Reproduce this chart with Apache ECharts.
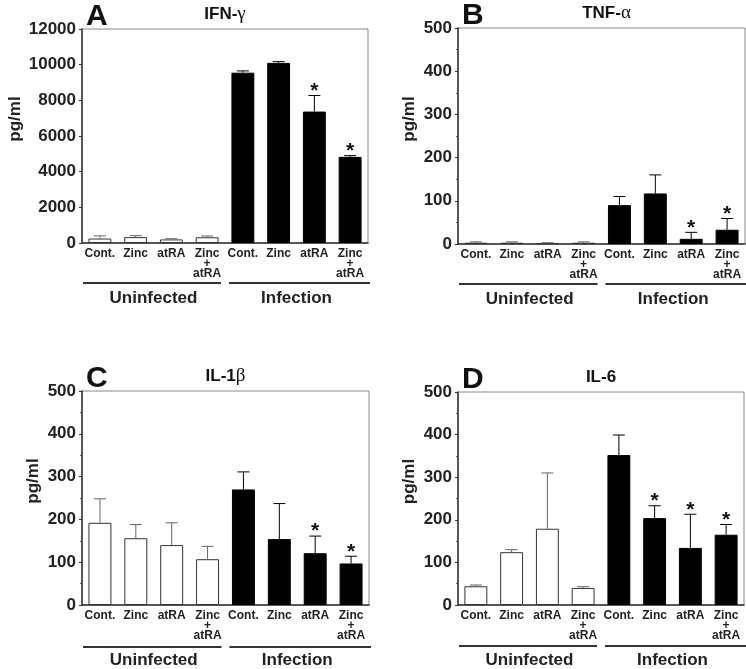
<!DOCTYPE html>
<html><head><meta charset="utf-8">
<script src="https://cdn.jsdelivr.net/npm/echarts@6/dist/echarts.min.js"></script>
<style>html,body{margin:0;padding:0;background:#fff}#c{width:746px;height:669px}</style>
</head><body><div id="c"></div>
<script>
const categories = ['Cont.', 'Zinc', 'atRA', 'Zinc\n+\natRA', 'Cont.', 'Zinc', 'atRA', 'Zinc\n+\natRA'];
const groups = ['Uninfected', 'Infection'];
const letters = ['A', 'B', 'C', 'D'];
const titlesBold = ['IFN-', 'TNF-', 'IL-1', 'IL-6'];
const titlesGreek = ['γ', 'α', 'β', ''];
const ifnMean = [250, 330, 200, 320, 9550, 10100, 7370, 4830];
const ifnErr = [150, 80, 40, 70, 100, 70, 900, 70];
const ifnSig = [0, 0, 0, 0, 0, 0, 1, 1];
const tnfMean = [3, 3, 2, 3, 90, 117, 12, 33];
const tnfErr = [2, 2, 1, 2, 20, 43, 15, 26];
const tnfSig = [0, 0, 0, 0, 0, 0, 1, 1];
const il1Mean = [192, 156, 140, 107, 270, 154, 121, 97];
const il1Err = [56, 32, 52, 30, 41, 83, 40, 17];
const il1Sig = [0, 0, 0, 0, 0, 0, 1, 1];
const il6Mean = [44, 124, 179, 40, 352, 204, 134, 165];
const il6Err = [3, 6, 131, 3, 47, 29, 79, 24];
const il6Sig = [0, 0, 0, 0, 0, 1, 1, 1];
const yMax = [12000, 500, 500, 500];
const yInterval = [2000, 100, 100, 100];
const yName = 'pg/ml';

const means = [ifnMean, tnfMean, il1Mean, il6Mean];
const errs = [ifnErr, tnfErr, il1Err, il6Err];
const sigs = [ifnSig, tnfSig, il1Sig, il6Sig];

const FONT = 'Liberation Sans, Arial, Helvetica, sans-serif';
const grids = [
  {left: 82, right: 378, top: 29, bottom: 426},
  {left: 458, right: 1, top: 28, bottom: 425},
  {left: 82, right: 377, top: 391, bottom: 62},
  {left: 458, right: 2, top: 392, bottom: 63}
];
const nameGaps = [58, 40, 40, 40];

const chart = echarts.init(document.getElementById('c'), null, {renderer: 'canvas'});

function renderErr(params, api) {
  const i = api.value(0), m = api.value(1), e = api.value(2), s = api.value(3);
  const base = api.coord([i, m]);
  const top = api.coord([i, m + e]);
  const col = i < 4 ? '#666' : '#000';
  const children = [
    {type: 'line', shape: {x1: base[0], y1: base[1], x2: top[0], y2: top[1]}, style: {stroke: col, lineWidth: 1}},
    {type: 'line', shape: {x1: top[0] - 6, y1: top[1], x2: top[0] + 6, y2: top[1]}, style: {stroke: col, lineWidth: 1}}
  ];
  if (s) {
    children.push({type: 'text', style: {text: '*', x: top[0], y: top[1] + 6, align: 'center', verticalAlign: 'bottom', font: 'bold 21px ' + FONT, fill: '#111'}});
  }
  return {type: 'group', children};
}

const option = {
  animation: false,
  backgroundColor: '#fff',
  title: [],
  grid: [],
  xAxis: [],
  yAxis: [],
  series: []
};

grids.forEach((g, k) => {
  option.grid.push(Object.assign({show: true, borderColor: '#888', borderWidth: 1, backgroundColor: 'transparent'}, g));
  option.xAxis.push({
    type: 'category', gridIndex: k, data: categories,
    axisLine: {show: true, lineStyle: {color: '#333', width: 1.5}},
    axisTick: {show: false},
    axisLabel: {interval: 0, margin: 6, color: '#222', fontFamily: FONT, fontWeight: 'bold', fontSize: 12, lineHeight: 10},
    splitLine: {show: false}
  });
  option.xAxis.push({
    type: 'category', gridIndex: k, data: groups, position: 'bottom', offset: 41,
    axisLine: {show: false}, axisTick: {show: false},
    axisLabel: {interval: 0, margin: 6, color: '#222', fontFamily: FONT, fontWeight: 'bold', fontSize: 17},
    splitLine: {show: false}
  });
  option.yAxis.push({
    type: 'value', gridIndex: k, min: 0, max: yMax[k], interval: yInterval[k],
    name: yName, nameLocation: 'middle', nameGap: nameGaps[k],
    nameTextStyle: {fontFamily: FONT, fontWeight: 'bold', fontSize: 17, color: '#222', padding: [0, 0, 0, 34]},
    axisLine: {show: true, lineStyle: {color: '#333', width: 1.5}},
    axisTick: {show: true, inside: false, length: 3, lineStyle: {color: '#333'}},
    minorTick: {show: k > 0, splitNumber: 2, length: 2, lineStyle: {color: '#555'}},
    axisLabel: {margin: 6, color: '#222', fontFamily: FONT, fontWeight: 'bold', fontSize: 17, formatter: v => String(v)},
    splitLine: {show: false}
  });
  option.series.push({
    type: 'bar', xAxisIndex: k * 2, yAxisIndex: k, barCategoryGap: '36%',
    data: means[k].map((v, i) => ({
      value: v,
      itemStyle: i < 4 ? {color: '#fff', borderColor: '#333', borderWidth: 1} : {color: '#000', borderColor: '#000', borderWidth: 1}
    })),
    z: 2
  });
  option.series.push({
    type: 'custom', xAxisIndex: k * 2, yAxisIndex: k, renderItem: renderErr,
    encode: {x: 0, y: 1},
    data: means[k].map((v, i) => [i, v, errs[k][i], sigs[k][i]]),
    z: 3
  });
  const cx = g.left + (746 - g.left - g.right) / 2 + (k === 1 ? 5 : 0);
  option.title.push({
    text: letters[k], left: g.left + 4, top: g.top - 27, padding: 0,
    textStyle: {fontFamily: FONT, fontWeight: 'bold', fontSize: 30, lineHeight: 30, color: '#111'}
  });
  option.title.push({
    text: '{b|' + titlesBold[k] + '}' + (titlesGreek[k] ? '{g|' + titlesGreek[k] + '}' : ''),
    left: cx, textAlign: 'center', top: g.top - 25, padding: 0,
    textStyle: {rich: {
      b: {fontFamily: FONT, fontWeight: 'bold', fontSize: 17, lineHeight: 20, color: '#111'},
      g: {fontFamily: 'Liberation Serif, Times New Roman, serif', fontWeight: 'normal', fontSize: 19, lineHeight: 20, color: '#111'}
    }}
  });
});

chart.setOption(option);

// group underlines, positioned through the category axes
const graphics = [];
grids.forEach((g, k) => {
  const xi = k * 2;
  const p0 = chart.convertToPixel({xAxisIndex: xi}, 0);
  const p1 = chart.convertToPixel({xAxisIndex: xi}, 1);
  const bw = p1 - p0;
  const p3 = chart.convertToPixel({xAxisIndex: xi}, 3);
  const p4 = chart.convertToPixel({xAxisIndex: xi}, 4);
  const p7 = chart.convertToPixel({xAxisIndex: xi}, 7);
  const y = 669 - g.bottom + 40;
  graphics.push({type: 'line', shape: {x1: p0 - bw / 2 + 1, y1: y, x2: p3 + bw / 2 - 4, y2: y}, style: {stroke: '#333', lineWidth: 2}});
  graphics.push({type: 'line', shape: {x1: p4 - bw / 2 + 4, y1: y, x2: p7 + bw / 2 + 2, y2: y}, style: {stroke: '#333', lineWidth: 2}});
});
chart.setOption({graphic: graphics});
</script>
</body></html>
